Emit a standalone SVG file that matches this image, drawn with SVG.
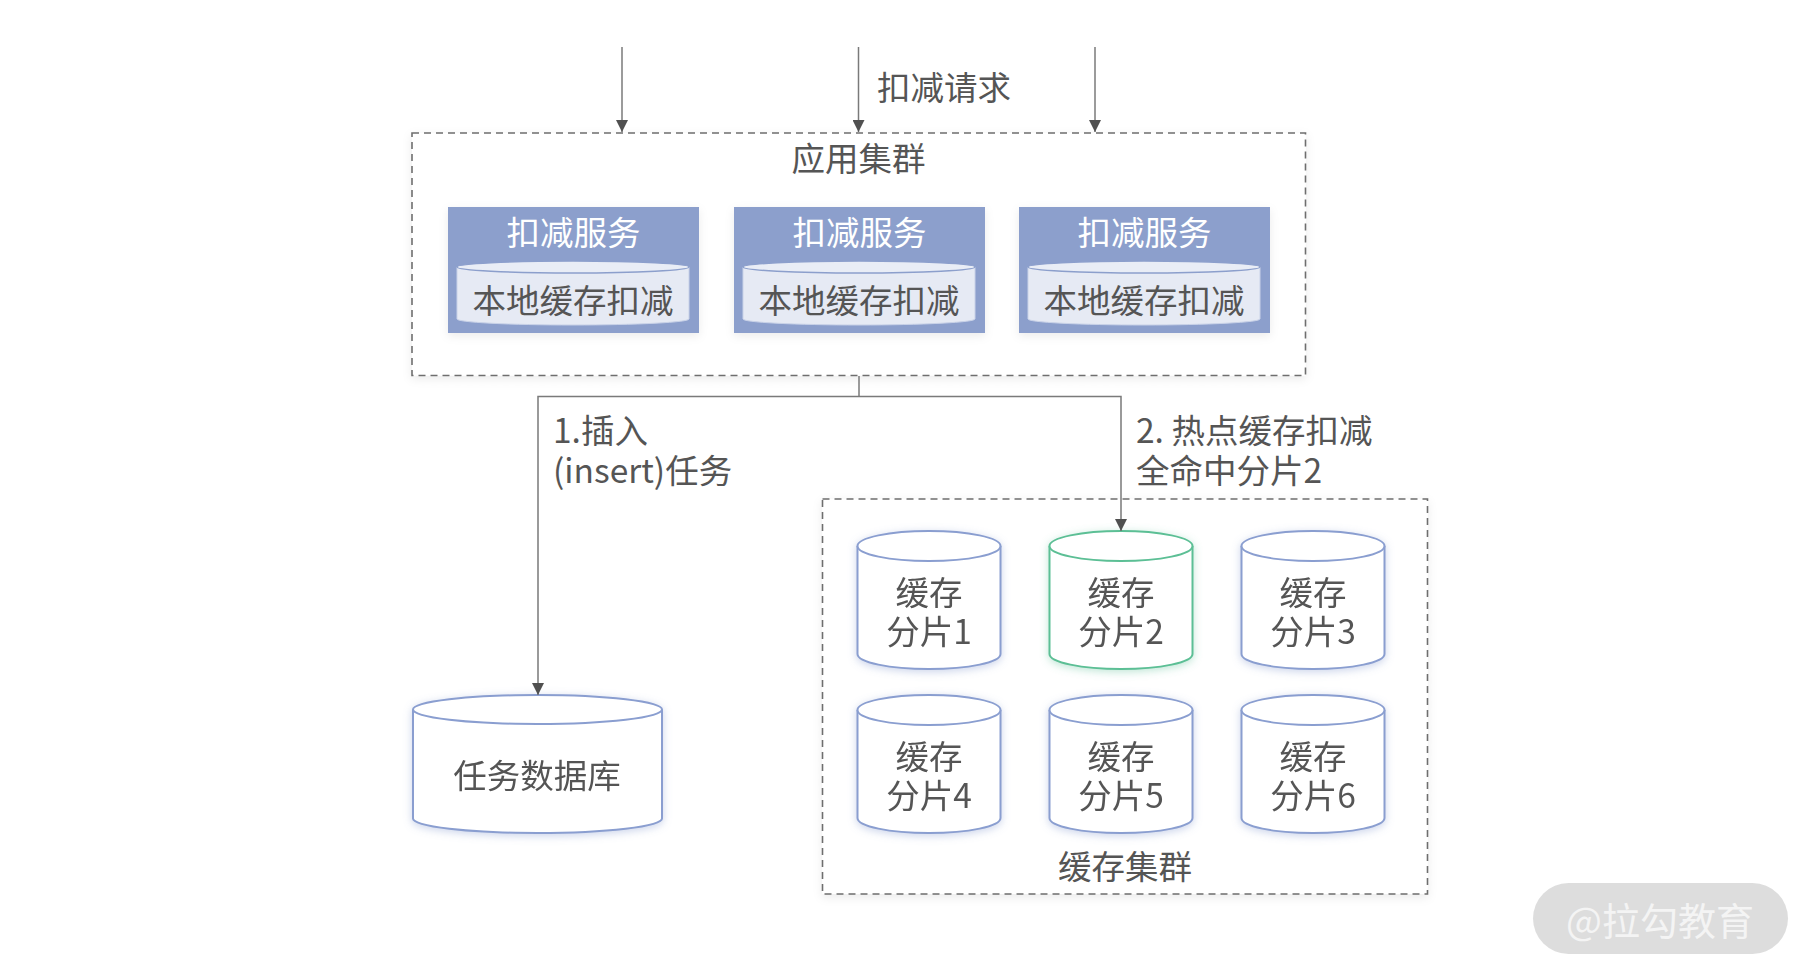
<svg xmlns="http://www.w3.org/2000/svg" width="1814" height="979" viewBox="0 0 1814 979">
<style>
text{font-family:"Noto Sans CJK SC","Noto Sans",sans-serif;font-size:33.5px;fill:#555555}
.mid{text-anchor:middle}
.white{fill:#ffffff}
.frame{fill:#ffffff;stroke:#6e6e6e;stroke-width:1.6;stroke-dasharray:7 5}
.svc{fill:#8c9fcc}
.inner{fill:#e6eaf4;stroke:#c9d2e8;stroke-width:1}
.innerTop{fill:#e9edf6;stroke:#8c9fcc;stroke-width:1.5}
.cyl{fill:#ffffff;stroke:#8a9ed0;stroke-width:2}
.cylG{fill:#ffffff;stroke:#5cbf95;stroke-width:2}
.wire{fill:none;stroke:#7a7a7a;stroke-width:1.5}
</style>
<defs>
<marker id="arr" viewBox="0 0 12 12" refX="12" refY="6" markerWidth="12" markerHeight="12" markerUnits="userSpaceOnUse" orient="auto">
<path d="M0,0 L12,6 L0,12 Z" fill="#505050"/>
</marker>
<filter id="glow" x="-20%" y="-20%" width="140%" height="140%">
<feDropShadow dx="0" dy="2" stdDeviation="4" flood-color="#8c9fd0" flood-opacity="0.45"/>
</filter>
<filter id="glowG" x="-20%" y="-20%" width="140%" height="140%">
<feDropShadow dx="0" dy="2" stdDeviation="4" flood-color="#5cbf95" flood-opacity="0.4"/>
</filter>
<filter id="soft" x="-5%" y="-5%" width="110%" height="115%">
<feDropShadow dx="0" dy="3" stdDeviation="5" flood-color="#000000" flood-opacity="0.08"/>
</filter>
</defs>
<rect width="1814" height="979" fill="#ffffff"/>

<g id="app-cluster">
<rect class="frame" x="412" y="133" width="893.5" height="242.5" filter="url(#soft)"/>
<text class="mid" x="858.5" y="171">应用集群</text>
</g>

<g id="svc1">
<rect class="svc" x="448" y="207" width="251" height="126" filter="url(#soft)"/>
<text class="mid white" x="573.5" y="245">扣减服务</text>
<path class="inner" d="M457,267 L457,319 A116,6 0 0 0 689,319 L689,267 Z"/>
<ellipse class="innerTop" cx="573" cy="267" rx="116" ry="6"/>
<text class="mid" x="573" y="313">本地缓存扣减</text>
</g>
<g id="svc2">
<rect class="svc" x="734" y="207" width="251" height="126" filter="url(#soft)"/>
<text class="mid white" x="859.5" y="245">扣减服务</text>
<path class="inner" d="M743,267 L743,319 A116,6 0 0 0 975,319 L975,267 Z"/>
<ellipse class="innerTop" cx="859" cy="267" rx="116" ry="6"/>
<text class="mid" x="859" y="313">本地缓存扣减</text>
</g>
<g id="svc3">
<rect class="svc" x="1019" y="207" width="251" height="126" filter="url(#soft)"/>
<text class="mid white" x="1144.5" y="245">扣减服务</text>
<path class="inner" d="M1028,267 L1028,319 A116,6 0 0 0 1260,319 L1260,267 Z"/>
<ellipse class="innerTop" cx="1144" cy="267" rx="116" ry="6"/>
<text class="mid" x="1144" y="313">本地缓存扣减</text>
</g>

<g id="cache-cluster">
<rect class="frame" x="822.5" y="499" width="605" height="395" filter="url(#soft)"/>
<text class="mid" x="1125" y="879">缓存集群</text>
</g>

<g id="shard1" filter="url(#glow)">
<path class="cyl" d="M857.5,546 L857.5,654 A71.5,15 0 0 0 1000.5,654 L1000.5,546"/>
<ellipse class="cyl" cx="929" cy="546" rx="71.5" ry="15"/>
<text class="mid" x="929" y="605">缓存<tspan x="929" dy="39">分片1</tspan></text>
</g>
<g id="shard2" filter="url(#glowG)">
<path class="cylG" d="M1049.5,546 L1049.5,654 A71.5,15 0 0 0 1192.5,654 L1192.5,546"/>
<ellipse class="cylG" cx="1121" cy="546" rx="71.5" ry="15"/>
<text class="mid" x="1121" y="605">缓存<tspan x="1121" dy="39">分片2</tspan></text>
</g>
<g id="shard3" filter="url(#glow)">
<path class="cyl" d="M1241.5,546 L1241.5,654 A71.5,15 0 0 0 1384.5,654 L1384.5,546"/>
<ellipse class="cyl" cx="1313" cy="546" rx="71.5" ry="15"/>
<text class="mid" x="1313" y="605">缓存<tspan x="1313" dy="39">分片3</tspan></text>
</g>
<g id="shard4" filter="url(#glow)">
<path class="cyl" d="M857.5,710 L857.5,818 A71.5,15 0 0 0 1000.5,818 L1000.5,710"/>
<ellipse class="cyl" cx="929" cy="710" rx="71.5" ry="15"/>
<text class="mid" x="929" y="769">缓存<tspan x="929" dy="39">分片4</tspan></text>
</g>
<g id="shard5" filter="url(#glow)">
<path class="cyl" d="M1049.5,710 L1049.5,818 A71.5,15 0 0 0 1192.5,818 L1192.5,710"/>
<ellipse class="cyl" cx="1121" cy="710" rx="71.5" ry="15"/>
<text class="mid" x="1121" y="769">缓存<tspan x="1121" dy="39">分片5</tspan></text>
</g>
<g id="shard6" filter="url(#glow)">
<path class="cyl" d="M1241.5,710 L1241.5,818 A71.5,15 0 0 0 1384.5,818 L1384.5,710"/>
<ellipse class="cyl" cx="1313" cy="710" rx="71.5" ry="15"/>
<text class="mid" x="1313" y="769">缓存<tspan x="1313" dy="39">分片6</tspan></text>
</g>

<g id="task-db" filter="url(#glow)">
<path class="cyl" d="M413,709.5 L413,818.5 A124.5,14.5 0 0 0 662,818.5 L662,709.5"/>
<ellipse class="cyl" cx="537.5" cy="709.5" rx="124.5" ry="14.5"/>
<text class="mid" x="537" y="788">任务数据库</text>
</g>

<g id="connectors">
<line class="wire" x1="622" y1="47" x2="622" y2="132" marker-end="url(#arr)"/>
<line class="wire" x1="858.5" y1="47" x2="858.5" y2="132" marker-end="url(#arr)"/>
<line class="wire" x1="1095" y1="47" x2="1095" y2="132" marker-end="url(#arr)"/>
<text x="877" y="100">扣减请求</text>
<polyline class="wire" points="859,376 859,396.5"/>
<polyline class="wire" points="859,396.5 538,396.5 538,695" marker-end="url(#arr)"/>
<polyline class="wire" points="859,396.5 1121,396.5 1121,531" marker-end="url(#arr)"/>
<text x="553" y="443">1.插入<tspan x="553" dy="40">(insert)任务</tspan></text>
<text x="1136" y="443">2. 热点缓存扣减<tspan x="1136" dy="40">全命中分片2</tspan></text>
</g>

<g id="watermark">
<rect x="1533" y="883" width="255" height="71" rx="35.5" fill="#d9d9d9" opacity="0.9"/>
<text class="mid" x="1660" y="935" style="font-size:38px;fill:#f4f4f4">@拉勾教育</text>
</g>
</svg>
